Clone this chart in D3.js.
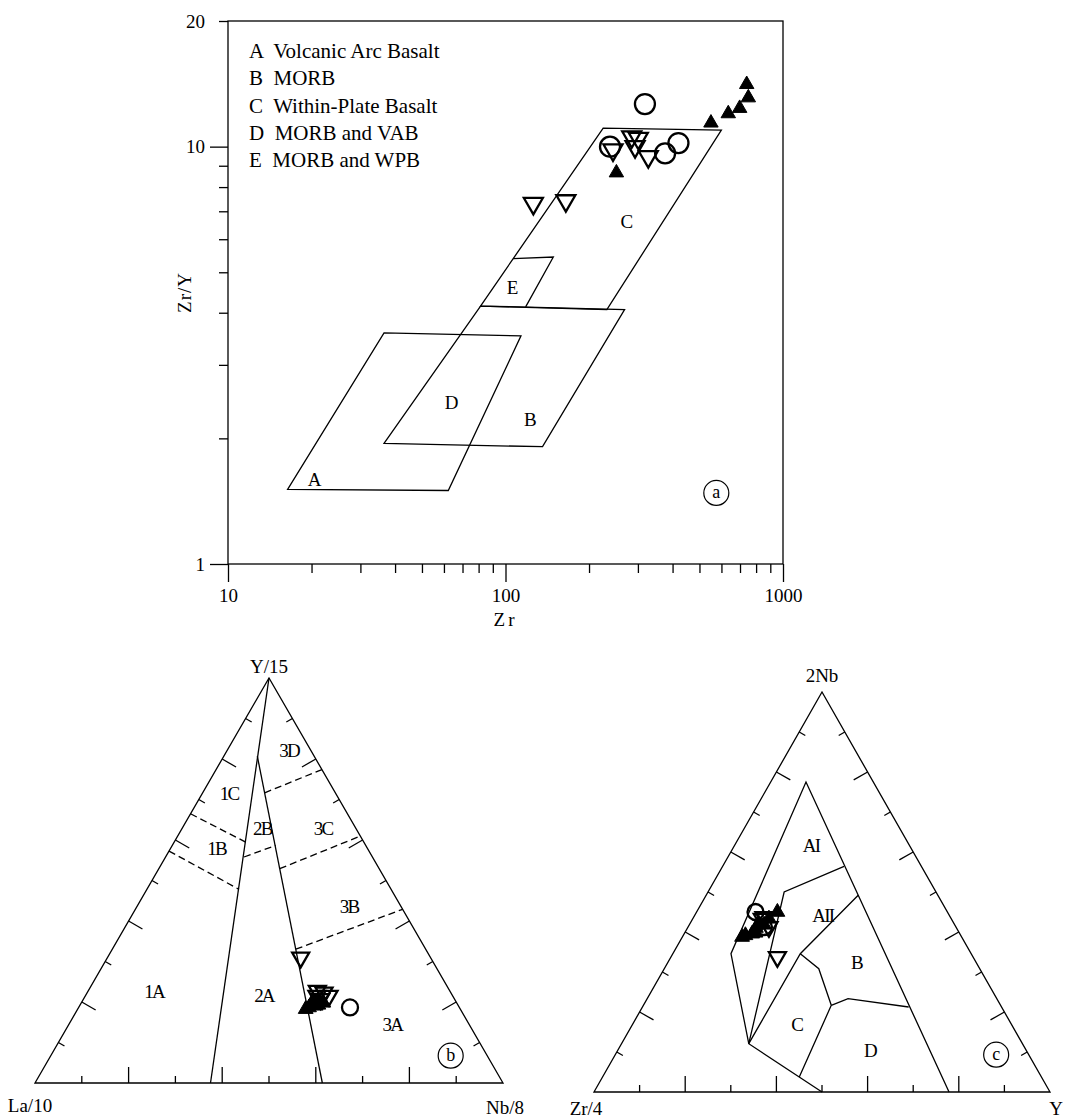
<!DOCTYPE html>
<html>
<head>
<meta charset="utf-8">
<title>Zr - Zr/Y and ternary discrimination diagrams</title>
<style>
  body { margin: 0; background: #fff; }
  svg text { font-family: "Liberation Serif", "DejaVu Serif", serif; fill: #000; }
  .frame, .field { fill: none; stroke: #000; stroke-width: 1.3; }
  .dash { stroke-dasharray: 7,4; }
  .axis line { stroke: #000; stroke-width: 1.3; }
  .axis text { font-size: 19px; font-family: "Liberation Serif", serif; }
  .open { fill: #fff; fill-opacity: 0; stroke: #000; stroke-width: 2.3; }
  .solid { fill: #000; stroke: #000; stroke-width: 1; }
  .lbl { font-size: 19px; }
  .zone { font-size: 19px; letter-spacing: -1.8px; }
</style>
</head>
<body>
<svg id="chart" width="1071" height="1120"></svg>
<script src="https://d3js.org/d3.v7.min.js"></script>
<script>
// ---------- (a) Zr vs Zr/Y ----------
var legendRows = ["A  Volcanic Arc Basalt", "B  MORB", "C  Within-Plate Basalt", "D  MORB and VAB", "E  MORB and WPB"];
var xMajorTicks = [10, 100, 1000];
var xMinorTicks = [20, 30, 40, 50, 60, 70, 80, 90, 200, 300, 400, 500, 600, 700, 800, 900];
var yMajorTicks = [1, 10];
var yMinorTicks = [2, 3, 4, 5, 6, 7, 8, 9];

// field outlines [Zr, Zr/Y]
var fieldA = [[16.4, 1.51], [62.2, 1.50], [113.7, 3.52], [36.5, 3.58]];
var fieldB = [[36.5, 1.945], [136, 1.91], [268.6, 4.07], [81.3, 4.15]];
var fieldC = [[81.3, 4.15], [224.9, 11.08], [599.6, 10.96], [231.9, 4.07]];
var fieldE = [[106.6, 5.39], [148.7, 5.44], [118.2, 4.13]];
var fieldLabels = [["A", 20.5, 1.6], ["B", 123, 2.22], ["C", 273.5, 6.62], ["D", 64, 2.44], ["E", 106, 4.6]];

// samples
var aCircleZr = [238, 376, 420, 318];
var aCircleZrY = [10.0, 9.64, 10.2, 12.65];
var aOpenTriZr = [126, 165, 244, 285, 301, 293, 327];
var aOpenTriZrY = [7.31, 7.42, 9.82, 10.56, 10.47, 10.0, 9.46];
var aFillTriZr = [251, 550, 635, 698, 750, 740];
var aFillTriZrY = [8.66, 11.4, 12.0, 12.36, 13.1, 14.1];

// ---------- (b) La/10 - Y/15 - Nb/8, points as [La, Y, Nb] ----------
var bSolid = [
  [[0, 1, 0], [0.625, 0, 0.375]],
  [[0.1215, 0.8069, 0.0716], [0.386, 0, 0.614]]
];
var bDashed = [
  [[0.4273, 0.5727, 0], [0.325, 0.4782, 0.1968]],
  [[0.3353, 0.6647, 0], [0.2524, 0.5949, 0.1527]],
  [[0.2744, 0.558, 0.1676], [0.1924, 0.5867, 0.2209]],
  [[0.1511, 0.7165, 0.1324], [0, 0.774, 0.226]],
  [[0.2125, 0.5292, 0.2583], [0, 0.6097, 0.3903]],
  [[0.2777, 0.3303, 0.392], [0, 0.4289, 0.5711]]
];
var bZones = [["1A", 0.632, 0.2276, 0.1405], ["2A", 0.4019, 0.2177, 0.3804], ["3A", 0.1638, 0.1454, 0.6908],
  ["3B", 0.1105, 0.4371, 0.4524], ["3C", 0.0695, 0.6302, 0.3003], ["3D", 0.0456, 0.8233, 0.1311],
  ["1C", 0.2272, 0.7165, 0.0563], ["1B", 0.3214, 0.5809, 0.0977], ["2B", 0.1991, 0.6302, 0.1707]];
var bCircles = [[0.2337, 0.1865, 0.5798]];
var bOpenTri = [[0.2774, 0.3098, 0.4128], [0.2829, 0.2276, 0.4895], [0.2707, 0.2235, 0.5058],
  [0.2641, 0.2153, 0.5206], [0.2861, 0.2071, 0.5068], [0.290, 0.215, 0.495]];
var bFillTri = [[0.3213, 0.1865, 0.4922], [0.305, 0.1906, 0.5044], [0.308, 0.1988, 0.4932],
  [0.3304, 0.1824, 0.4872], [0.312, 0.1950, 0.4930], [0.300, 0.200, 0.500],
  [0.292, 0.205, 0.503], [0.298, 0.193, 0.509], [0.285, 0.198, 0.517]];

// ---------- (c) Zr/4 - 2Nb - Y, points as [Zr/4, 2Nb, Y] ----------
var cLines = [
  [[0.2214, 0, 0.7786], [0.1476, 0.775, 0.0774], [0.5267, 0.3458, 0.1275], [0.600, 0.1208, 0.279], [0.5, 0, 0.5]],
  [[0.600, 0.1208, 0.279], [0.333, 0.5, 0.167], [0.1695, 0.5642, 0.2663]],
  [[0.600, 0.1208, 0.279], [0.3747, 0.3458, 0.2795], [0.1748, 0.4917, 0.3335]],
  [[0.3747, 0.3458, 0.2795], [0.3529, 0.3083, 0.3388], [0.3713, 0.2167, 0.412], [0.5311, 0.0375, 0.4314]],
  [[0.3713, 0.2167, 0.412], [0.3262, 0.2333, 0.4405], [0.2037, 0.2125, 0.5838]]
];
var cZones = [["AI", 0.2156, 0.6167, 0.1677], ["AII", 0.2773, 0.4417, 0.281], ["B", 0.2619, 0.325, 0.4131],
  ["C", 0.4703, 0.1708, 0.3589], ["D", 0.3428, 0.1042, 0.553]];
var cCircles = [[0.4208, 0.45, 0.1292], [0.4211, 0.4125, 0.1664]];
var cOpenTri = [[0.4085, 0.4375, 0.154], [0.429, 0.3375, 0.2335], [0.41, 0.4125, 0.1775], [0.4144, 0.4333, 0.1523]];
var cFillTri = [[0.3728, 0.45, 0.1772], [0.4721, 0.3917, 0.1362], [0.4552, 0.3958, 0.149],
  [0.428, 0.4208, 0.1512], [0.3997, 0.4333, 0.167], [0.4815, 0.3875, 0.131],
  [0.440, 0.410, 0.150], [0.418, 0.418, 0.164], [0.447, 0.398, 0.155]];

var tickFractions = [0.1, 0.2, 0.3, 0.4, 0.5, 0.6, 0.7, 0.8, 0.9];

var svg = d3.select("#chart");

// ===== panel a =====
var x = d3.scaleLog().domain([10, 1000]).range([228, 783]);
var y = d3.scaleLog().domain([1, 20]).range([564, 21]);
var pa = svg.append("g");

pa.append("rect").attr("class", "frame")
  .attr("x", x(10)).attr("y", y(20))
  .attr("width", x(1000) - x(10)).attr("height", y(1) - y(20));

function noDomain(g) { g.select(".domain").remove(); }

pa.append("g").attr("class", "axis").attr("transform", "translate(0," + y(1) + ")")
  .call(d3.axisBottom(x).tickValues(xMinorTicks).tickSize(9).tickFormat("")).call(noDomain);
pa.append("g").attr("class", "axis").attr("transform", "translate(0," + y(1) + ")")
  .call(d3.axisBottom(x).tickValues(xMajorTicks).tickSize(18).tickPadding(7).tickFormat(d3.format("d"))).call(noDomain);
pa.append("g").attr("class", "axis").attr("transform", "translate(" + x(10) + ",0)")
  .call(d3.axisLeft(y).tickValues(yMinorTicks).tickSize(9).tickFormat("")).call(noDomain);
pa.append("g").attr("class", "axis").attr("transform", "translate(" + x(10) + ",0)")
  .call(d3.axisLeft(y).tickValues(yMajorTicks).tickSize(18).tickPadding(5).tickFormat(d3.format("d"))).call(noDomain);
pa.append("g").attr("class", "axis").attr("transform", "translate(" + x(10) + ",0)")
  .call(d3.axisLeft(y).tickValues([20]).tickSize(9).tickPadding(14).tickFormat(d3.format("d"))).call(noDomain);

pa.append("text").attr("class", "lbl").attr("x", (x(10) + x(1000)) / 2).attr("y", y(1) + 62)
  .attr("text-anchor", "middle").style("letter-spacing", "3px").text("Zr");
pa.append("text").attr("class", "lbl")
  .attr("transform", "translate(191," + ((y(1) + y(20)) / 2) + ") rotate(-90)")
  .attr("text-anchor", "middle").style("letter-spacing", "1px").text("Zr/Y");

var logLine = d3.line().x(function(d) { return x(d[0]); }).y(function(d) { return y(d[1]); });
[fieldA, fieldB, fieldC].forEach(function(f) {
  pa.append("path").attr("class", "field").attr("d", logLine(f) + "Z");
});
pa.append("path").attr("class", "field").attr("d", logLine(fieldE));

pa.selectAll(".flab").data(fieldLabels).enter().append("text")
  .attr("class", "lbl").attr("text-anchor", "middle")
  .attr("x", function(d) { return x(d[1]); }).attr("y", function(d) { return y(d[2]) + 7; })
  .text(function(d) { return d[0]; });

pa.selectAll(".leg").data(legendRows).enter().append("text")
  .attr("class", "lbl").style("white-space", "pre").attr("xml:space", "preserve")
  .attr("x", 249).attr("y", function(d, i) { return 58 + i * 27.3; })
  .style("font-size", "21px")
  .text(function(d) { return d; });

// circled panel tag
function tag(g, cx, cy, letter) {
  g.append("circle").attr("cx", cx).attr("cy", cy).attr("r", 12.5)
    .attr("fill", "none").attr("stroke", "#000").attr("stroke-width", 1.2);
  g.append("text").attr("x", cx).attr("y", cy + 5).attr("text-anchor", "middle")
    .style("font-size", "18px").text(letter);
}
tag(pa, x(575), y(1.48), "a");

var triBig = d3.symbol().type(d3.symbolTriangle).size(156);
var triSmall = d3.symbol().type(d3.symbolTriangle).size(90);

pa.selectAll(".ac").data(aCircleZr).enter().append("circle").attr("class", "open")
  .attr("cx", function(d) { return x(d); }).attr("cy", function(d, i) { return y(aCircleZrY[i]); })
  .attr("r", 10);
pa.selectAll(".aot").data(aOpenTriZr).enter().append("path").attr("class", "open")
  .attr("d", triBig)
  .attr("transform", function(d, i) { return "translate(" + x(d) + "," + y(aOpenTriZrY[i]) + ") rotate(180)"; });
pa.selectAll(".aft").data(aFillTriZr).enter().append("path").attr("class", "solid")
  .attr("d", triSmall)
  .attr("transform", function(d, i) { return "translate(" + x(d) + "," + y(aFillTriZrY[i]) + ")"; });

// ===== ternary panels =====
function ternary(left, right, base, apex) {
  var h = Math.sqrt(3) / 2;
  var u = d3.scaleLinear().domain([0, 1]).range([left, right]);
  var v = d3.scaleLinear().domain([0, h]).range([base, apex]);
  return function(p) { return [u(p[2] + p[1] / 2), v(p[1] * h)]; };
}

function frameAndTicks(g, proj) {
  var V = [[1, 0, 0], [0, 1, 0], [0, 0, 1]].map(proj);
  g.append("path").attr("class", "frame").attr("d", d3.line()(V) + "Z");
  var cx = (V[0][0] + V[1][0] + V[2][0]) / 3, cy = (V[0][1] + V[1][1] + V[2][1]) / 3;
  var edges = [[0, 2], [0, 1], [2, 1]];
  edges.forEach(function(e) {
    var A = V[e[0]], B = V[e[1]];
    var dx = B[0] - A[0], dy = B[1] - A[1], len = Math.hypot(dx, dy);
    var nx = -dy / len, ny = dx / len;
    var mx = (A[0] + B[0]) / 2, my = (A[1] + B[1]) / 2;
    if ((cx - mx) * nx + (cy - my) * ny < 0) { nx = -nx; ny = -ny; }
    tickFractions.forEach(function(f, i) {
      var px = A[0] + dx * f, py = A[1] + dy * f;
      var L = (i % 2 === 1) ? 16 : 7;
      g.append("line").attr("x1", px).attr("y1", py).attr("x2", px + nx * L).attr("y2", py + ny * L)
        .attr("stroke", "#000").attr("stroke-width", 1.3);
    });
  });
  return V;
}

var triMid = d3.symbol().type(d3.symbolTriangle).size(125);
var triSm2 = d3.symbol().type(d3.symbolTriangle).size(95);

function samples(g, proj, circles, openTri, fillTri) {
  g.selectAll(null).data(fillTri).enter().append("path").attr("class", "solid").attr("d", triSm2)
    .attr("transform", function(d) { var p = proj(d); return "translate(" + p[0] + "," + p[1] + ")"; });
  g.selectAll(null).data(openTri).enter().append("path").attr("class", "open").attr("d", triMid)
    .attr("transform", function(d) { var p = proj(d); return "translate(" + p[0] + "," + p[1] + ") rotate(180)"; });
  g.selectAll(null).data(circles).enter().append("circle").attr("class", "open").attr("r", 8)
    .attr("cx", function(d) { return proj(d)[0]; }).attr("cy", function(d) { return proj(d)[1]; });
}

// ===== panel b =====
var pb = svg.append("g");
var projB = ternary(35, 503, 1083, 678);
var VB = frameAndTicks(pb, projB);
var lineB = d3.line().x(function(d) { return projB(d)[0]; }).y(function(d) { return projB(d)[1]; });
bSolid.forEach(function(l) { pb.append("path").attr("class", "field").attr("d", lineB(l)); });
bDashed.forEach(function(l) { pb.append("path").attr("class", "field dash").attr("d", lineB(l)); });
pb.selectAll(null).data(bZones).enter().append("text").attr("class", "zone").attr("text-anchor", "middle")
  .attr("x", function(d) { return projB(d.slice(1))[0]; }).attr("y", function(d) { return projB(d.slice(1))[1] + 7; })
  .text(function(d) { return d[0]; });
pb.append("text").attr("class", "lbl").attr("text-anchor", "middle").attr("x", VB[1][0]).attr("y", VB[1][1] - 5).text("Y/15");
pb.append("text").attr("class", "lbl").attr("text-anchor", "middle").attr("x", VB[0][0] - 5).attr("y", VB[0][1] + 29).text("La/10");
pb.append("text").attr("class", "lbl").attr("text-anchor", "middle").attr("x", VB[2][0] + 2).attr("y", VB[2][1] + 31).text("Nb/8");
var tb = projB([0.0781, 0.0674, 0.8545]);
tag(pb, tb[0], tb[1], "b");
samples(pb, projB, bCircles, bOpenTri, bFillTri);

// ===== panel c =====
var pc = svg.append("g");
var projC = ternary(594, 1050, 1092, 692);
var VC = frameAndTicks(pc, projC);
var lineC = d3.line().x(function(d) { return projC(d)[0]; }).y(function(d) { return projC(d)[1]; });
cLines.forEach(function(l) { pc.append("path").attr("class", "field").attr("d", lineC(l)); });
pc.selectAll(null).data(cZones).enter().append("text").attr("class", "zone").attr("text-anchor", "middle")
  .attr("x", function(d) { return projC(d.slice(1))[0]; }).attr("y", function(d) { return projC(d.slice(1))[1] + 7; })
  .text(function(d) { return d[0]; });
pc.append("text").attr("class", "lbl").attr("text-anchor", "middle").attr("x", VC[1][0]).attr("y", VC[1][1] - 10).text("2Nb");
pc.append("text").attr("class", "lbl").attr("text-anchor", "middle").attr("x", VC[0][0] - 8).attr("y", VC[0][1] + 23).text("Zr/4");
pc.append("text").attr("class", "lbl").attr("text-anchor", "middle").attr("x", VC[2][0] + 6).attr("y", VC[2][1] + 23).text("Y");
var tc = projC([0.0714, 0.0933, 0.8353]);
tag(pc, tc[0], tc[1], "c");
samples(pc, projC, cCircles, cOpenTri, cFillTri);
</script>
</body>
</html>
